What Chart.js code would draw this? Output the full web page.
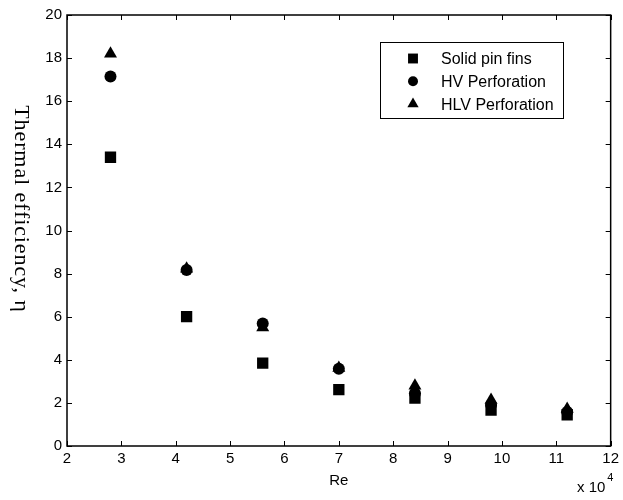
<!DOCTYPE html>
<html>
<head>
<meta charset="utf-8">
<script src="https://cdn.jsdelivr.net/npm/chart.js@4"></script>
<style>
  html, body { margin: 0; padding: 0; background: #fff; }
</style>
</head>
<body>
<canvas id="effChart" width="623" height="500"></canvas>
<script>
// Reynolds number (x 10^4) and thermal efficiency
const reValues = [2.8, 4.2, 5.6, 7.0, 8.4, 9.8, 11.2];
const solidPinFins = [13.4, 6.0, 3.85, 2.62, 2.22, 1.67, 1.45];
const hvPerforation = [17.15, 8.17, 5.68, 3.58, 2.45, 1.9, 1.58];
const hlvPerforation = [18.2, 8.22, 5.5, 3.62, 2.8, 2.13, 1.72];

const seriesNames = ["Solid pin fins", "HV Perforation", "HLV Perforation"];
const xTitle = "Re";
const yTitle = "Thermal efficiency, \u03b7";

const sans = '"Liberation Sans", Arial, sans-serif';
const serif = '"Liberation Serif", "Times New Roman", serif';

function toPoints(ys) {
  return reValues.map((x, i) => ({ x: x, y: ys[i] }));
}

function makeSet(label, ys, style, radius) {
  return {
    label: label,
    data: toPoints(ys),
    showLine: false,
    pointStyle: style,
    pointRadius: radius,
    pointHoverRadius: radius,
    pointBorderWidth: 0,
    backgroundColor: "#000",
    borderColor: "#000",
  };
}

// box, inward ticks, legend and extra texts (MATLAB look)
const matlabFrame = {
  id: "matlabFrame",
  beforeDatasetsDraw(chart) {
    const ctx = chart.ctx;
    const a = chart.chartArea;
    const xs = chart.scales.x;
    const ys = chart.scales.y;
    ctx.save();
    ctx.strokeStyle = "#000";
    ctx.lineWidth = 1.5;
    ctx.strokeRect(a.left, a.top, a.right - a.left, a.bottom - a.top);
    ctx.lineWidth = 1;
    ctx.beginPath();
    xs.ticks.forEach((t) => {
      const px = Math.round(xs.getPixelForValue(t.value)) + 0.5;
      ctx.moveTo(px, a.bottom);
      ctx.lineTo(px, a.bottom - 5);
      ctx.moveTo(px, a.top);
      ctx.lineTo(px, a.top + 5);
    });
    ys.ticks.forEach((t) => {
      const py = Math.round(ys.getPixelForValue(t.value)) + 0.5;
      ctx.moveTo(a.left, py);
      ctx.lineTo(a.left + 5, py);
      ctx.moveTo(a.right, py);
      ctx.lineTo(a.right - 5, py);
    });
    ctx.stroke();
    ctx.restore();
  },
  afterDraw(chart) {
    const ctx = chart.ctx;
    ctx.save();

    // legend
    ctx.fillStyle = "#fff";
    ctx.fillRect(380.5, 42.5, 183, 76);
    ctx.strokeStyle = "#000";
    ctx.lineWidth = 1;
    ctx.strokeRect(380.5, 42.5, 183, 76);
    const legendRadius = [7, 5, 6.5];
    chart.data.datasets.forEach((ds, i) => {
      const y = 58.5 + i * 22.8;
      ctx.fillStyle = "#000";
      Chart.helpers.drawPoint(ctx, {
        pointStyle: ds.pointStyle,
        rotation: 0,
        radius: legendRadius[i],
        borderWidth: 0,
      }, 413, y);
      ctx.font = "16px " + sans;
      ctx.textAlign = "left";
      ctx.textBaseline = "middle";
      ctx.fillText(ds.label, 441, y + 1);
    });

    // y axis title, reading top to bottom
    ctx.fillStyle = "#000";
    ctx.save();
    ctx.translate(21, 209);
    ctx.rotate(Math.PI / 2);
    ctx.font = "22px " + serif;
    ctx.letterSpacing = "0.9px";
    ctx.textAlign = "center";
    ctx.textBaseline = "middle";
    ctx.fillText(yTitle, 0, 0);
    ctx.restore();

    // exponent note
    ctx.font = "15px " + sans;
    ctx.textAlign = "left";
    ctx.textBaseline = "middle";
    ctx.fillText("x 10", 577, 488);
    const w = ctx.measureText("x 10").width;
    ctx.font = "11px " + sans;
    ctx.fillText("4", 577 + w + 2, 478);
    ctx.restore();
  },
};

const ctx = document.getElementById("effChart").getContext("2d");
new Chart(ctx, {
  type: "scatter",
  data: {
    datasets: [
      makeSet(seriesNames[0], solidPinFins, "rect", 8),
      makeSet(seriesNames[1], hvPerforation, "circle", 6),
      makeSet(seriesNames[2], hlvPerforation, "triangle", 7.5),
    ],
  },
  options: {
    responsive: false,
    animation: false,
    layout: {
      padding: { top: 15, right: 9, left: 0, bottom: 0 },
    },
    plugins: {
      legend: { display: false },
      tooltip: { enabled: false },
    },
    scales: {
      x: {
        type: "linear",
        min: 2,
        max: 12,
        ticks: {
          stepSize: 1,
          padding: 4,
          color: "#000",
          font: { family: sans, size: 15 },
        },
        grid: { display: false, drawTicks: false },
        border: { display: false },
        title: {
          display: true,
          text: xTitle,
          color: "#000",
          font: { family: sans, size: 15 },
          padding: { top: 0, bottom: 10 },
        },
        afterFit(scale) {
          scale.height = 54;
        },
      },
      y: {
        min: 0,
        max: 20,
        ticks: {
          stepSize: 2,
          padding: 5,
          color: "#000",
          font: { family: sans, size: 15 },
        },
        grid: { display: false, drawTicks: false },
        border: { display: false },
        afterFit(scale) {
          scale.width = 67;
        },
      },
    },
  },
  plugins: [matlabFrame],
});
</script>
</body>
</html>
